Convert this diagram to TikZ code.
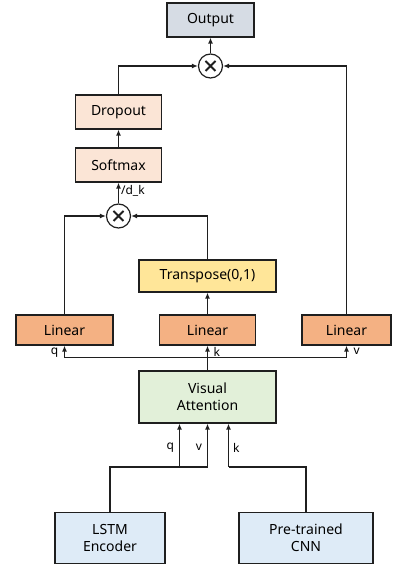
\documentclass[tikz,border=0pt]{standalone}
\usepackage{fontspec}
\setmainfont{Noto Sans}
\usepackage{tikz}
\usetikzlibrary{shapes,arrows,arrows.meta,positioning,calc}
\definecolor{outgray}{HTML}{D6DCE4}
\definecolor{peach}{HTML}{FBE5D6}
\definecolor{sandy}{HTML}{FFE699}
\definecolor{apricot}{HTML}{F4B183}
\definecolor{mint}{HTML}{E2F0D9}
\definecolor{skyblue}{HTML}{DEEBF7}
\definecolor{edge}{HTML}{1F1F1F}
\begin{document}
\begin{tikzpicture}[x=1pt, y=1pt, auto,
        font=\fontsize{14}{16}\selectfont,
        box/.style={rectangle, draw=edge, line width=1.2pt, align=center, inner sep=2pt},
        outbox/.style={box, fill=outgray, minimum width=87pt, minimum height=34pt},
        softbox/.style={box, fill=peach, minimum width=86pt, minimum height=34pt},
        transbox/.style={box, fill=sandy, minimum width=137pt, minimum height=32pt},
        linbox/.style={box, fill=apricot, minimum width=96pt, minimum height=30pt},
        attbox/.style={box, fill=mint, minimum width=137pt, minimum height=52pt, font=\fontsize{14}{17}\selectfont},
        inbox/.style={box, fill=skyblue, minimum height=51pt, font=\fontsize{14}{17}\selectfont},
        mult/.style={circle, draw=edge, fill=white, line width=1.2pt, minimum size=24pt, inner sep=0pt,
            path picture={\draw[line width=1.9pt] (path picture bounding box.center) +(-5pt,-5pt) -- +(5pt,5pt) +(-5pt,5pt) -- +(5pt,-5pt);}},
        tag/.style={font=\fontsize{12}{14}\selectfont, inner sep=1pt},
        line/.style={draw=edge, line width=1.2pt, -{Latex[length=6pt,width=5pt]}},
        wire/.style={draw=edge, line width=1.2pt}]
        \useasboundingbox (0,0) rectangle (392,566);

        \node [inbox, minimum width=110pt] (lstm) at (110,28) {LSTM\\Encoder};
        \node [inbox, minimum width=134pt, right of=lstm, node distance=196pt] (cnn) {Pre-trained\\CNN};
        \node [attbox] (att) at (207.5,169) {Visual\\Attention};
        \node [linbox, above of=att, node distance=67pt] (linmid) {Linear};
        \node [linbox, minimum width=97pt, left of=linmid, node distance=143pt] (linleft) {Linear};
        \node [linbox, minimum width=89pt, right of=linmid, node distance=139pt] (linright) {Linear};
        \node [transbox, above of=linmid, node distance=54pt] (trans) {Transpose(0,1)};
        \node [mult] (mult2) at (118.5,350) {};
        \node [softbox, above of=mult2, node distance=51pt] (softmax) {Softmax};
        \node [softbox, above of=softmax, node distance=53pt] (dropout) {Dropout};
        \node [mult] (mult1) at (210.5,500) {};
        \node [outbox, above of=mult1, node distance=46pt] (output) {Output};

        % inputs of the attention block
        \coordinate (qjoin) at (179.5,99);
        \coordinate (vjoin) at (att.south |- qjoin);
        \coordinate (kjoin) at (228.5,99);
        \path [wire] (lstm.north) |- (vjoin);
        \path [wire] (cnn.north) |- (kjoin);
        \path [line] (qjoin) -- node [tag, left, pos=0.45, xshift=-4pt] {q} (qjoin |- att.south);
        \path [line] (vjoin) -- node [tag, left, pos=0.45, xshift=-4pt] {v} (att.south);
        \path [line] (kjoin) -- node [tag, right, pos=0.45, xshift=3pt] {k} (kjoin |- att.south);

        % q, k, v projections
        \coordinate (bus) at ($(att.north)+(0,13)$);
        \path [line] (att.north) -- (linmid.south);
        \path [line] (bus) -| (linleft.south);
        \path [line] (bus) -| (linright.south);
        \node [tag, below left=1pt and 5pt of linleft.south] {q};
        \node [tag, below right=1pt and 5pt of linmid.south] {k};
        \node [tag, below right=1pt and 6pt of linright.south] {v};

        \path [line] (linmid.north) -- (trans.south);
        \path [line] (linleft.north) |- (mult2.west);
        \path [line] (trans.north) |- (mult2.east);
        \path [line] (mult2.north) -- node [tag, right, pos=0.6, xshift=1pt] {/d\_k} (softmax.south);
        \path [line] (softmax.north) -- (dropout.south);
        \path [line] (dropout.north) |- (mult1.west);
        \path [line] (linright.north) |- (mult1.east);
        \path [line] (mult1.north) -- (output.south);
    \end{tikzpicture}
\end{document}
